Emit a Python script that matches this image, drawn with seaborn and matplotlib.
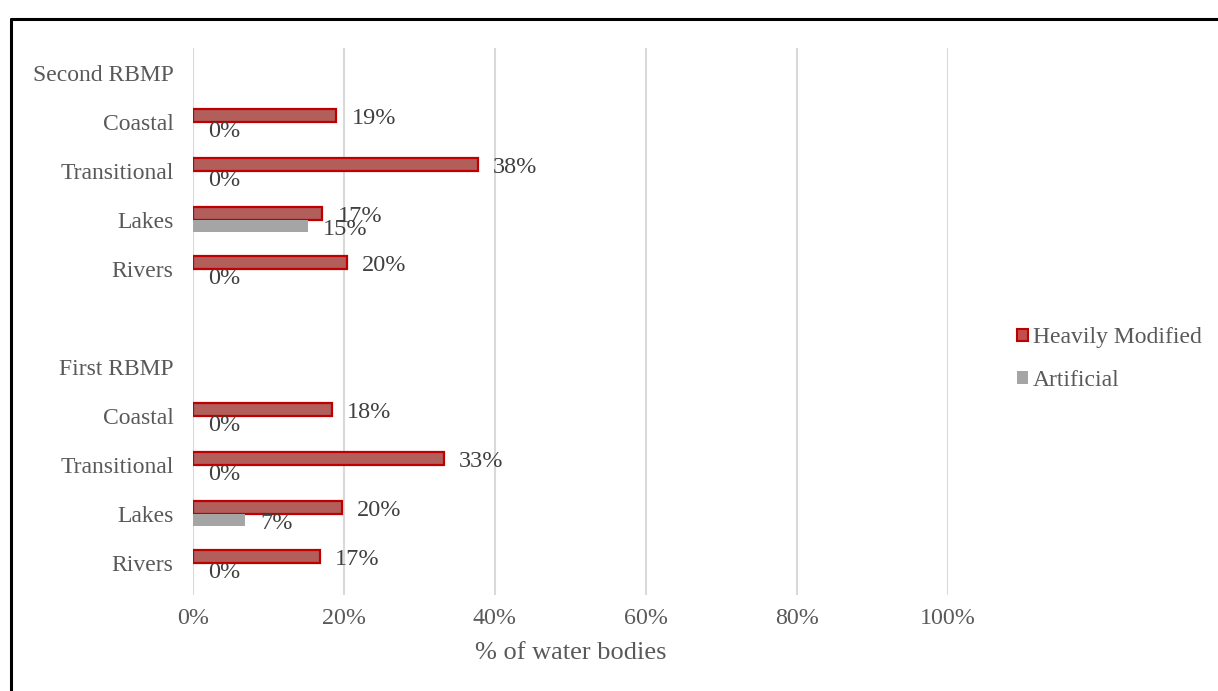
import matplotlib
matplotlib.use("Agg")
import matplotlib.pyplot as plt
from matplotlib.lines import Line2D
from matplotlib.patches import Patch
import seaborn as sns
import pandas as pd
import numpy as np

# ---- data ----
row_keys = ["S_head", "S_Coastal", "S_Transitional", "S_Lakes", "S_Rivers", "gap",
            "F_head", "F_Coastal", "F_Transitional", "F_Lakes", "F_Rivers"]
row_labels = ["Second RBMP", "Coastal", "Transitional", "Lakes", "Rivers", "",
              "First RBMP", "Coastal", "Transitional", "Lakes", "Rivers"]
data_keys = ["S_Coastal", "S_Transitional", "S_Lakes", "S_Rivers",
             "F_Coastal", "F_Transitional", "F_Lakes", "F_Rivers"]
heavily_modified = [0.19, 0.377, 0.171, 0.204, 0.184, 0.332, 0.197, 0.168]
artificial = [0.0, 0.0, 0.152, 0.0, 0.0, 0.0, 0.069, 0.0]
series = ["Heavily Modified", "Artificial"]
x_ticks = [0, 0.2, 0.4, 0.6, 0.8, 1.0]

df = pd.DataFrame({
    "row": data_keys * 2,
    "value": heavily_modified + artificial,
    "series": [series[0]] * len(data_keys) + [series[1]] * len(data_keys),
})

sns.set_theme(style="white")
plt.rcParams["font.family"] = ["Liberation Serif", "DejaVu Serif"]

TXT = "#595959"
RED_FILL = "#C0504D"
RED_EDGE = "#C00000"
GRAY = "#A5A5A5"

fig = plt.figure(figsize=(12.18, 6.91), dpi=100)
ax = fig.add_axes([193 / 1218, 1 - 595 / 691, (948 - 193) / 1218, (595 - 48) / 691])

sns.barplot(data=df, y="row", x="value", hue="series", order=row_keys,
            hue_order=series, palette=[RED_FILL, GRAY], orient="h",
            width=0.5, ax=ax, legend=False, errorbar=None)

# style bars
for i, cont in enumerate(ax.containers):
    for p in cont:
        if i == 0:
            p.set_edgecolor(RED_EDGE)
            p.set_linewidth(1.6)
        else:
            p.set_edgecolor("none")
    anns = ax.bar_label(cont, labels=[f"{v:.0%}" for v in cont.datavalues],
                        padding=11, fontsize=17.5, color="#404040")
    for a in anns:
        a.xyann = (11, -2.5)

ax.set_xlim(0, 1.0)
ax.set_ylim(10.66, -0.5)
ax.set_xticks(x_ticks)
ax.set_xticklabels([f"{t:.0%}" for t in x_ticks], color=TXT, fontsize=17.3)
ax.set_yticks(range(len(row_keys)))
ax.set_yticklabels(row_labels, color=TXT, fontsize=17)
ax.tick_params(axis="both", length=0)
ax.tick_params(axis="y", pad=14)
ax.tick_params(axis="x", pad=9)
ax.xaxis.grid(True, color="#D9D9D9", linewidth=1.5)
ax.set_axisbelow(True)
for s in ax.spines.values():
    s.set_visible(False)
ax.set_ylabel("")
ax.set_xlabel("% of water bodies", color=TXT, fontsize=19, labelpad=10)

handles = [Patch(facecolor=RED_FILL, edgecolor=RED_EDGE, linewidth=1.5),
           Patch(facecolor=GRAY, edgecolor="none")]
fig.legend(handles, series, loc="center left", bbox_to_anchor=(996 / 1218, 1 - 359 / 691),
           frameon=False, fontsize=17, labelcolor=TXT, handlelength=0.45,
           handleheight=0.45, handletextpad=0.2, labelspacing=0.9)

# outer border (top and left)
fig.add_artist(Line2D([11 / 1218, 1.0], [1 - 19 / 691, 1 - 19 / 691],
                      color="black", linewidth=2.2, transform=fig.transFigure))
fig.add_artist(Line2D([11 / 1218, 11 / 1218], [0, 1 - 19 / 691],
                      color="black", linewidth=2.2, transform=fig.transFigure))

fig.savefig("out.png", dpi=100, facecolor="white")
